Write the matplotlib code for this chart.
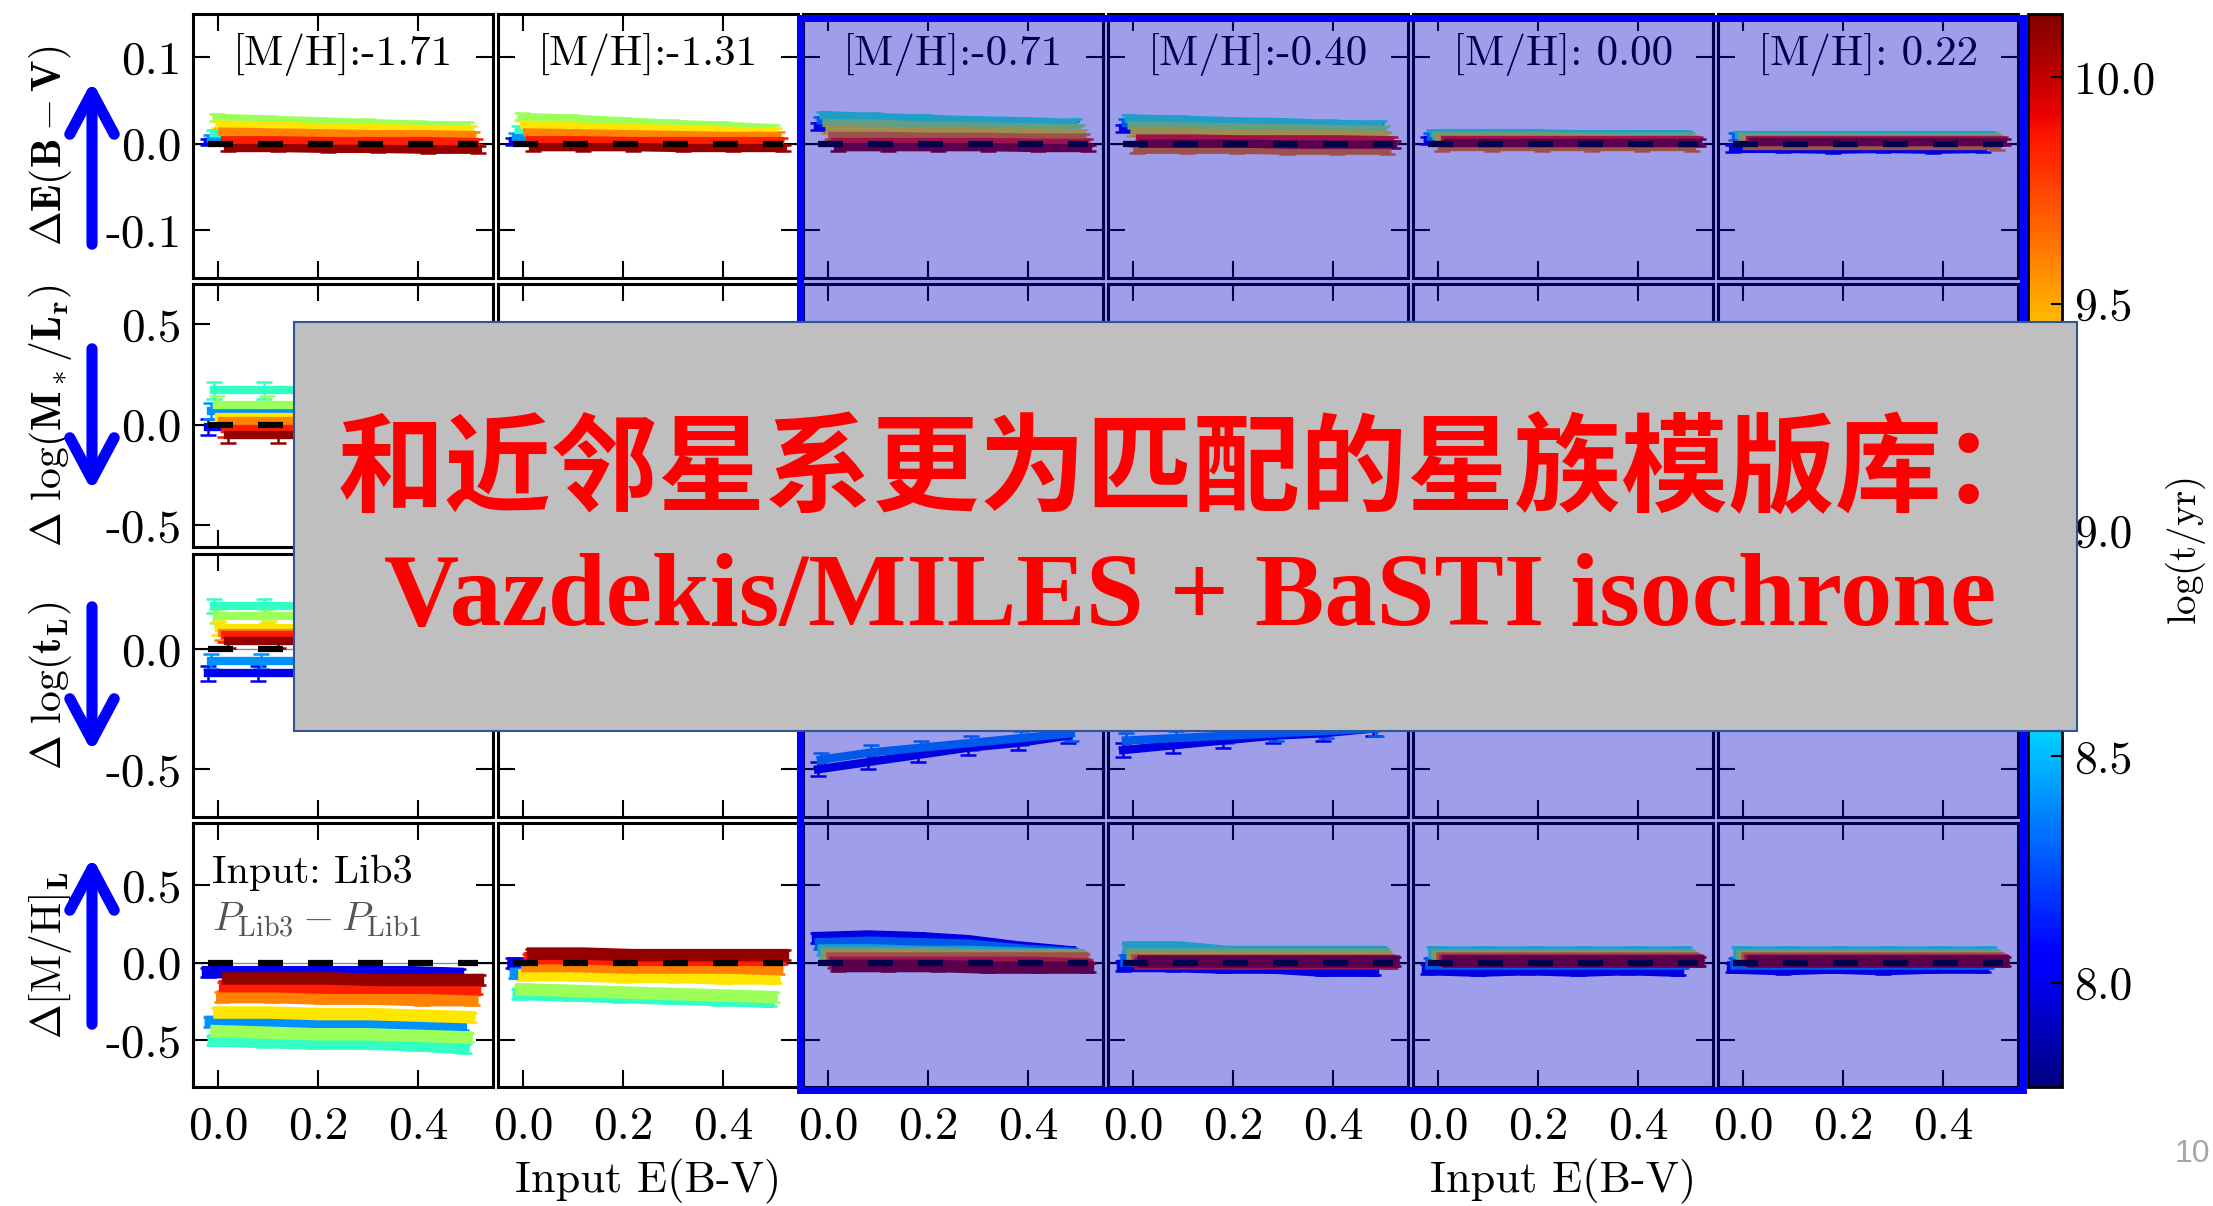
import numpy as np
import matplotlib
matplotlib.use("Agg")
import matplotlib.pyplot as plt
from matplotlib.patches import Rectangle, FancyArrowPatch
from matplotlib.cm import ScalarMappable
from matplotlib.colors import Normalize

plt.rcParams['font.family'] = ['cmr10']
plt.rcParams['mathtext.fontset'] = 'cm'
plt.rcParams['axes.unicode_minus'] = False
plt.rcParams['axes.formatter.use_mathtext'] = True

# input reddening grid and age tracks (log t/yr)
ebv = [0.0, 0.1, 0.2, 0.3, 0.4, 0.5]
log_age = [8.0, 8.4, 8.75, 9.05, 9.35, 9.6, 9.85, 10.1]
metal_labels = ['[M/H]:-1.71', '[M/H]:-1.31', '[M/H]:-0.71',
                '[M/H]:-0.40', '[M/H]: 0.00', '[M/H]: 0.22']

# row 1: Delta E(B-V), one track per age, six metallicity panels
d_ebv = [
    [[0.002, 0.002, 0.001, 0.001, 0.000, 0.000],
     [0.006, 0.005, 0.005, 0.004, 0.004, 0.003],
     [0.012, 0.011, 0.010, 0.009, 0.009, 0.008],
     [0.030, 0.028, 0.026, 0.024, 0.022, 0.021],
     [0.022, 0.021, 0.019, 0.018, 0.017, 0.016],
     [0.014, 0.013, 0.012, 0.011, 0.011, 0.010],
     [0.004, 0.004, 0.003, 0.003, 0.003, 0.002],
     [-0.005, -0.005, -0.006, -0.006, -0.007, -0.007]],
    [[0.003, 0.003, 0.002, 0.002, 0.001, 0.001],
     [0.008, 0.007, 0.007, 0.006, 0.005, 0.005],
     [0.016, 0.015, 0.014, 0.012, 0.011, 0.010],
     [0.031, 0.029, 0.026, 0.023, 0.021, 0.018],
     [0.022, 0.020, 0.018, 0.017, 0.015, 0.014],
     [0.013, 0.012, 0.011, 0.010, 0.009, 0.009],
     [0.004, 0.004, 0.003, 0.003, 0.003, 0.003],
     [-0.004, -0.004, -0.004, -0.005, -0.005, -0.005]],
    [[0.020, 0.019, 0.018, 0.017, 0.016, 0.015],
     [0.027, 0.026, 0.025, 0.024, 0.023, 0.022],
     [0.033, 0.031, 0.029, 0.027, 0.026, 0.024],
     [0.024, 0.023, 0.021, 0.020, 0.019, 0.018],
     [0.016, 0.015, 0.014, 0.013, 0.013, 0.012],
     [0.009, 0.009, 0.008, 0.008, 0.007, 0.007],
     [0.002, 0.002, 0.002, 0.002, 0.001, 0.001],
     [-0.004, -0.004, -0.004, -0.004, -0.005, -0.005]],
    [[0.018, 0.018, 0.017, 0.016, 0.016, 0.015],
     [0.024, 0.023, 0.022, 0.021, 0.020, 0.020],
     [0.029, 0.028, 0.026, 0.025, 0.023, 0.022],
     [0.021, 0.020, 0.019, 0.018, 0.017, 0.016],
     [0.013, 0.013, 0.012, 0.011, 0.011, 0.010],
     [-0.007, -0.007, -0.007, -0.008, -0.008, -0.008],
     [0.006, 0.006, 0.005, 0.005, 0.005, 0.004],
     [0.000, 0.000, 0.000, -0.001, -0.001, -0.001]],
    [[0.004, 0.004, 0.004, 0.004, 0.004, 0.004],
     [0.008, 0.008, 0.008, 0.008, 0.008, 0.007],
     [0.012, 0.012, 0.012, 0.011, 0.011, 0.011],
     [0.009, 0.009, 0.009, 0.008, 0.008, 0.008],
     [0.006, 0.006, 0.006, 0.006, 0.005, 0.005],
     [-0.004, -0.004, -0.004, -0.004, -0.004, -0.004],
     [0.004, 0.004, 0.004, 0.004, 0.004, 0.004],
     [0.001, 0.001, 0.001, 0.001, 0.001, 0.001]],
    [[-0.006, -0.006, -0.007, -0.006, -0.007, -0.006],
     [0.008, 0.008, 0.008, 0.008, 0.008, 0.008],
     [0.010, 0.010, 0.010, 0.010, 0.010, 0.010],
     [0.008, 0.008, 0.008, 0.008, 0.008, 0.008],
     [0.006, 0.006, 0.006, 0.006, 0.006, 0.006],
     [-0.003, -0.003, -0.003, -0.003, -0.003, -0.003],
     [0.004, 0.004, 0.004, 0.004, 0.004, 0.004],
     [0.002, 0.002, 0.002, 0.002, 0.002, 0.002]],
]

# row 2: Delta log(M*/Lr) -- only the first panel edge is visible
d_ml = [
    [[-0.01, -0.01, -0.01, -0.01, -0.01, -0.01],
     [0.07, 0.07, 0.07, 0.07, 0.07, 0.07],
     [0.17, 0.17, 0.17, 0.17, 0.17, 0.17],
     [0.10, 0.10, 0.10, 0.10, 0.10, 0.10],
     [0.04, 0.04, 0.04, 0.04, 0.04, 0.04],
     [0.02, 0.02, 0.02, 0.02, 0.02, 0.02],
     [-0.02, -0.02, -0.02, -0.02, -0.02, -0.02],
     [-0.05, -0.05, -0.05, -0.05, -0.05, -0.05]],
    None, None, None, None, None,
]

# row 3: Delta log(t_L)
d_age = [
    [[-0.10, -0.10, -0.10, -0.10, -0.10, -0.10],
     [-0.05, -0.05, -0.05, -0.05, -0.05, -0.05],
     [0.18, 0.18, 0.18, 0.18, 0.18, 0.18],
     [0.14, 0.14, 0.14, 0.14, 0.14, 0.14],
     [0.09, 0.09, 0.09, 0.09, 0.09, 0.09],
     [0.07, 0.07, 0.07, 0.07, 0.07, 0.07],
     [0.06, 0.06, 0.06, 0.06, 0.06, 0.06],
     [0.035, 0.035, 0.035, 0.035, 0.035, 0.035]],
    None,
    [[-0.50, -0.47, -0.44, -0.41, -0.39, -0.36],
     [-0.46, -0.43, -0.41, -0.39, -0.37, -0.35],
     None, None, None, None, None, None],
    [[-0.42, -0.40, -0.38, -0.36, -0.35, -0.33],
     [-0.38, -0.37, -0.36, -0.35, -0.34, -0.33],
     None, None, None, None, None, None],
    None, None,
]

# row 4: Delta [M/H]_L
d_mh = [
    [[-0.06, -0.06, -0.06, -0.06, -0.06, -0.07],
     [-0.38, -0.38, -0.39, -0.39, -0.40, -0.40],
     [-0.50, -0.51, -0.52, -0.52, -0.53, -0.55],
     [-0.44, -0.45, -0.46, -0.46, -0.47, -0.48],
     [-0.32, -0.32, -0.33, -0.33, -0.34, -0.35],
     [-0.22, -0.22, -0.23, -0.23, -0.24, -0.24],
     [-0.15, -0.15, -0.16, -0.16, -0.16, -0.17],
     [-0.10, -0.10, -0.10, -0.11, -0.11, -0.11]],
    [[0.00, 0.00, 0.00, 0.00, 0.00, 0.00],
     [-0.07, -0.07, -0.07, -0.08, -0.08, -0.08],
     [-0.20, -0.21, -0.22, -0.23, -0.24, -0.25],
     [-0.17, -0.18, -0.19, -0.20, -0.21, -0.22],
     [-0.08, -0.08, -0.09, -0.09, -0.10, -0.10],
     [-0.02, -0.02, -0.03, -0.03, -0.03, -0.04],
     [0.03, 0.03, 0.02, 0.02, 0.02, 0.02],
     [0.06, 0.06, 0.05, 0.05, 0.05, 0.05]],
    [[0.16, 0.17, 0.16, 0.14, 0.10, 0.07],
     [0.12, 0.13, 0.12, 0.11, 0.08, 0.06],
     [0.08, 0.08, 0.07, 0.07, 0.06, 0.05],
     [0.06, 0.06, 0.06, 0.05, 0.05, 0.05],
     [0.05, 0.05, 0.04, 0.04, 0.04, 0.04],
     [0.03, 0.03, 0.03, 0.03, 0.03, 0.03],
     [0.00, 0.00, 0.00, 0.00, 0.00, -0.01],
     [-0.02, -0.02, -0.02, -0.03, -0.03, -0.03]],
    [[-0.02, -0.02, -0.03, -0.03, -0.05, -0.05],
     [0.02, 0.02, 0.02, 0.02, 0.02, 0.02],
     [0.10, 0.10, 0.07, 0.07, 0.07, 0.07],
     [0.06, 0.06, 0.06, 0.06, 0.06, 0.06],
     [0.04, 0.04, 0.04, 0.04, 0.04, 0.04],
     [0.02, 0.02, 0.02, 0.02, 0.02, 0.02],
     [0.00, 0.00, 0.00, 0.00, 0.00, 0.00],
     [0.01, 0.01, 0.01, 0.01, 0.01, 0.01]],
    [[-0.04, -0.05, -0.04, -0.05, -0.04, -0.05],
     [0.00, 0.00, 0.00, 0.00, 0.00, 0.00],
     [0.07, 0.07, 0.07, 0.07, 0.07, 0.07],
     [0.05, 0.05, 0.05, 0.05, 0.05, 0.05],
     [0.04, 0.04, 0.04, 0.04, 0.04, 0.04],
     [0.03, 0.03, 0.03, 0.03, 0.03, 0.03],
     [0.02, 0.02, 0.02, 0.02, 0.02, 0.02],
     [0.01, 0.01, 0.01, 0.01, 0.01, 0.01]],
    [[-0.03, -0.04, -0.03, -0.04, -0.03, -0.03],
     [0.00, 0.00, 0.00, 0.00, 0.00, 0.00],
     [0.07, 0.07, 0.07, 0.07, 0.07, 0.07],
     [0.05, 0.05, 0.05, 0.05, 0.05, 0.05],
     [0.04, 0.04, 0.04, 0.04, 0.04, 0.04],
     [0.03, 0.03, 0.03, 0.03, 0.03, 0.03],
     [0.02, 0.02, 0.02, 0.02, 0.02, 0.02],
     [0.01, 0.01, 0.01, 0.01, 0.01, 0.01]],
]

row_err = [0.004, 0.04, 0.03, 0.03]
row_lw = [6, 6, 6, 9]
ylims = [(-0.155, 0.15), (-0.61, 0.70), (-0.70, 0.40), (-0.80, 0.90)]
yticks = [[-0.1, 0.0, 0.1], [-0.5, 0.0, 0.5], [-0.5, 0.0], [-0.5, 0.0, 0.5]]
ytick_labels = [['-0.1', '0.0', '0.1'], ['-0.5', '0.0', '0.5'],
                ['-0.5', '0.0'], ['-0.5', '0.0', '0.5']]
ylabels = [r'$\mathbf{\Delta E(B-V)}$',
           r'$\mathbf{\Delta}\ \log(\mathbf{M_*/L_r})$',
           r'$\mathbf{\Delta}\ \log(\mathbf{t_L})$',
           r'$\mathbf{\Delta}[\mathrm{M/H}]_\mathbf{L}$']

W, H = 2213, 1206
cmap = plt.get_cmap('jet')
norm = Normalize(7.77, 10.14)
jitter = np.linspace(-0.02, 0.02, len(log_age))

fig, axes = plt.subplots(4, 6, figsize=(W / 100, H / 100), dpi=100)
fig.subplots_adjust(left=193 / W, right=2018 / W, bottom=1 - 1087 / H,
                    top=1 - 14 / H, wspace=0.017, hspace=0.023)

rows = [d_ebv, d_ml, d_age, d_mh]
for i, row in enumerate(rows):
    for j in range(6):
        ax = axes[i, j]
        panel = row[j]
        ax.axhline(0, color='0.55', lw=1, zorder=1)
        if panel is not None:
            for k, track in enumerate(panel):
                if track is None:
                    continue
                ax.errorbar(np.array(ebv) + jitter[k], track, yerr=row_err[i],
                            color=cmap(norm(log_age[k])), lw=row_lw[i],
                            elinewidth=1.8, capsize=6, capthick=1.8, zorder=2)
        ax.plot([ebv[0] + jitter[0], ebv[-1] + jitter[-1]], [0, 0], color='k',
                lw=4.5, ls=(0, (4, 4)), zorder=3)
        ax.set_xlim(-0.05, 0.55)
        ax.set_ylim(*ylims[i])
        ax.set_xticks([0.0, 0.2, 0.4])
        ax.set_yticks(yticks[i])
        ax.tick_params(direction='in', length=12, width=1.5, top=True,
                       right=True, labelsize=34, pad=8)
        ax.tick_params(axis='x', pad=14)
        if j == 0:
            ax.set_yticklabels(ytick_labels[i])
        else:
            ax.set_yticklabels([])
        if i == 3:
            ax.set_xticklabels(['0.0', '0.2', '0.4'])
        else:
            ax.set_xticklabels([])
        for s in ax.spines.values():
            s.set_linewidth(2.2)
        if i == 0:
            ax.text(0.5, 0.848, metal_labels[j], transform=ax.transAxes,
                    ha='center', va='center', fontsize=31)

for j in (1, 4):
    axes[3, j].set_xlabel('Input E(B-V)', fontsize=32, labelpad=8)

axes[3, 0].text(0.063, 0.814, 'Input: Lib3', transform=axes[3, 0].transAxes,
                ha='left', va='center', fontsize=29)
axes[3, 0].text(0.063, 0.633, r'$P_{\rm Lib3}-P_{\rm Lib1}$',
                transform=axes[3, 0].transAxes, ha='left', va='center',
                fontsize=29, color='#555555')

for i in range(4):
    pos = axes[i, 0].get_position()
    fig.text(50 / W, (pos.y0 + pos.y1) / 2, ylabels[i], rotation=90,
             ha='center', va='center', fontsize=30)

# colorbar
cax = fig.add_axes([2028 / W, 1 - 1087 / H, 34 / W, (1087 - 14) / H])
cb = fig.colorbar(ScalarMappable(norm=norm, cmap=cmap), cax=cax,
                  ticks=[8.0, 8.5, 9.0, 9.5, 10.0])
cb.ax.set_yticklabels(['8.0', '8.5', '9.0', '9.5', '10.0'])
cb.ax.tick_params(direction='in', length=8, width=1.5, labelsize=33, pad=9)
cb.outline.set_linewidth(2)
cb.set_label(r'$\log(\mathrm{t/yr})$', fontsize=28, labelpad=6)

# blue highlight over the four metal-rich columns
x0, x1, y0, y1 = 800, 2023, 18, 1090
fig.add_artist(Rectangle((x0 / W, 1 - y1 / H), (x1 - x0) / W, (y1 - y0) / H,
                         transform=fig.transFigure, facecolor='#0000cc',
                         alpha=0.38, edgecolor='none', zorder=3))
fig.add_artist(Rectangle((x0 / W, 1 - y1 / H), (x1 - x0) / W, (y1 - y0) / H,
                         transform=fig.transFigure, facecolor='none',
                         edgecolor='#0000ff', lw=5, zorder=4))

# arrows next to the row labels
arrow_x = 92
for ya, yb in [(247, 78), (346, 494), (604, 755), (1027, 854)]:
    fig.add_artist(FancyArrowPatch((arrow_x / W, 1 - ya / H), (arrow_x / W, 1 - yb / H),
                                   transform=fig.transFigure,
                                   arrowstyle='->,head_length=30,head_width=16',
                                   mutation_scale=1, lw=8, color='#0000ff',
                                   zorder=4))

# grey caption box
fig.add_artist(Rectangle((294 / W, 1 - 731 / H), (2077 - 294) / W, (731 - 322) / H,
                         transform=fig.transFigure, facecolor='#bfbfbf',
                         edgecolor='#2f5597', lw=1.5, zorder=5))
fig.text(1194 / W, 1 - 472 / H, '和近邻星系更为匹配的星族模版库：',
         family=['Noto Sans CJK SC', 'DejaVu Sans'], weight='bold',
         color='#ff0000', fontsize=77, ha='center', va='center', zorder=6)
fig.text(1190 / W, 1 - 600 / H, 'Vazdekis/MILES + BaSTI isochrone',
         family=['Liberation Serif'], weight='bold', color='#ff0000',
         fontsize=75, ha='center', va='center', zorder=6)

fig.text(2192 / W, 1 - 1154 / H, '10', family=['Liberation Sans'],
         color='#a6a6a6', fontsize=23, ha='center', va='center')

fig.savefig('out.png', dpi=100)
